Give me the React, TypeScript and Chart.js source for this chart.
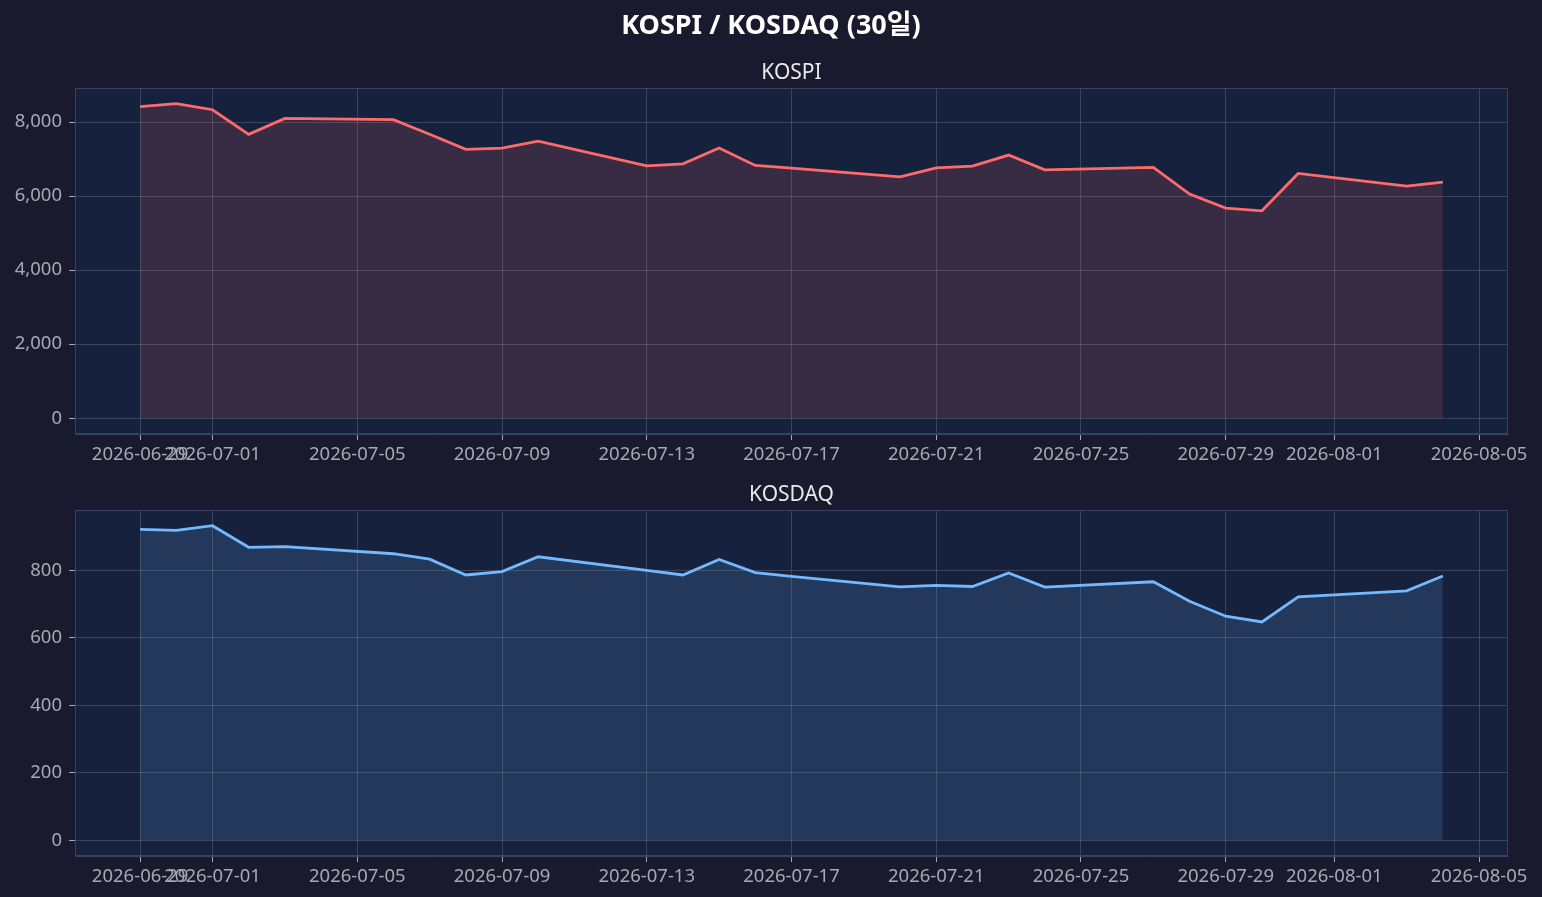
import { useEffect, useRef } from 'react';
import { Chart, registerables } from 'chart.js';

Chart.register(...registerables);

// trading days shown in the chart
const dates = [
  '2026-06-29', '2026-06-30', '2026-07-01', '2026-07-02', '2026-07-03',
  '2026-07-06', '2026-07-07', '2026-07-08', '2026-07-09', '2026-07-10',
  '2026-07-13', '2026-07-14', '2026-07-15', '2026-07-16', '2026-07-17',
  '2026-07-20', '2026-07-21', '2026-07-22', '2026-07-23', '2026-07-24',
  '2026-07-27', '2026-07-28', '2026-07-29', '2026-07-30', '2026-07-31',
  '2026-08-03', '2026-08-04',
];

const kospi = [
  8415, 8496, 8334, 7668, 8100,
  8064, 7670, 7262, 7298, 7487,
  6820, 6874, 7298, 6830, 6754,
  6523, 6766, 6812, 7109, 6712,
  6776, 6055, 5676, 5604, 6614,
  6271, 6379,
];

const kosdaq = [
  921, 918, 932, 868, 870,
  849, 833, 786, 796, 840,
  800, 786, 832, 793, 782,
  751, 755, 752, 792, 750,
  766, 708, 664, 647, 721,
  739, 783,
];

const dateTicks = [
  '2026-06-29', '2026-07-01', '2026-07-05', '2026-07-09', '2026-07-13',
  '2026-07-17', '2026-07-21', '2026-07-25', '2026-07-29', '2026-08-01', '2026-08-05',
];
const kospiTicks = [0, 2000, 4000, 6000, 8000];
const kosdaqTicks = [0, 200, 400, 600, 800];

const DAY = 86400000;
const t0 = Date.parse(dates[0]);
const toDay = (s: string) => (Date.parse(s) - t0) / DAY;
const fromDay = (d: number) => new Date(t0 + Math.round(d) * DAY).toISOString().slice(0, 10);

const FONT = "'Noto Sans', 'Noto Sans CJK KR', sans-serif";
Chart.defaults.font.family = FONT;

type PanelProps = {
  height: number;
  top: number;
  padTop: number;
  label: string;
  values: number[];
  color: string;
  fill: string;
  yTicks: number[];
  suptitle?: string;
};

function Panel({ height, top, padTop, label, values, color, fill, yTicks, suptitle }: PanelProps) {
  const canvasRef = useRef<HTMLCanvasElement>(null);
  const chartRef = useRef<Chart | null>(null);

  useEffect(() => {
    if (!canvasRef.current) return;
    if (chartRef.current) chartRef.current.destroy();

    const span = toDay(dates[dates.length - 1]);
    const vmax = Math.max(...values);

    // axes face, spines and the titles (panel title over the axes, suptitle over the figure)
    const frame = {
      id: 'frame',
      beforeDraw(chart: any) {
        const { ctx, chartArea: a } = chart;
        ctx.save();
        ctx.fillStyle = '#16213e';
        ctx.fillRect(a.left, a.top, a.right - a.left, a.bottom - a.top);
        ctx.restore();
      },
      afterDraw(chart: any) {
        const { ctx, chartArea: a } = chart;
        ctx.save();
        ctx.strokeStyle = '#3b3f62';
        ctx.lineWidth = 1;
        ctx.strokeRect(a.left + 0.5, a.top + 0.5, a.right - a.left - 1, a.bottom - a.top - 1);

        ctx.textAlign = 'center';
        ctx.textBaseline = 'alphabetic';
        ctx.fillStyle = '#e8e8e8';
        ctx.font = `21px ${FONT}`;
        ctx.fillText(label, (a.left + a.right) / 2, a.top - 8.7);

        if (suptitle) {
          ctx.fillStyle = '#ffffff';
          ctx.font = `bold 27px ${FONT}`;
          ctx.fillText(suptitle, chart.width / 2, 34.3);
        }
        ctx.restore();
      },
    };

    chartRef.current = new Chart(canvasRef.current, {
      type: 'line',
      data: {
        datasets: [
          {
            label,
            data: values.map((v, i) => ({ x: toDay(dates[i]), y: v })),
            borderColor: color,
            backgroundColor: fill,
            borderWidth: 2.8,
            fill: 'origin',
            pointRadius: 0,
            tension: 0,
          },
        ],
      },
      options: {
        animation: false,
        responsive: false,
        layout: { padding: { left: 0, right: 34, top: padTop, bottom: 0 } },
        plugins: {
          legend: { display: false },
          tooltip: { enabled: false },
        },
        scales: {
          x: {
            type: 'linear',
            min: -0.05 * span,
            max: span * 1.05,
            afterBuildTicks: (scale: any) => {
              scale.ticks = dateTicks.map((d) => ({ value: toDay(d) }));
            },
            afterFit: (scale: any) => {
              scale.height = 41;
            },
            ticks: {
              autoSkip: false,
              maxRotation: 0,
              color: '#a8a8b4',
              font: { size: 18.5 },
              padding: 4,
              callback: (v: any) => fromDay(Number(v)),
            },
            grid: {
              color: 'rgba(255,255,255,0.16)',
              tickColor: '#a8a8b4',
              tickLength: 6,
            },
            border: { color: '#3b3f62' },
          },
          y: {
            min: -0.05 * vmax,
            max: vmax * 1.05,
            afterBuildTicks: (scale: any) => {
              scale.ticks = yTicks.map((v) => ({ value: v }));
            },
            afterFit: (scale: any) => {
              scale.width = 75;
            },
            ticks: {
              color: '#a8a8b4',
              font: { size: 18.5 },
              padding: 7,
              callback: (v: any) => Number(v).toLocaleString('en-US'),
            },
            grid: {
              color: 'rgba(255,255,255,0.16)',
              tickColor: '#a8a8b4',
              tickLength: 6,
            },
            border: { color: '#3b3f62' },
          },
        },
      },
      plugins: [frame],
    });

    return () => {
      if (chartRef.current) {
        chartRef.current.destroy();
        chartRef.current = null;
      }
    };
  }, []);

  return (
    <canvas
      ref={canvasRef}
      width={1542}
      height={height}
      style={{ position: 'absolute', left: 0, top, width: 1542, height }}
    />
  );
}

export default function App() {
  return (
    <div
      style={{
        position: 'fixed',
        left: 0,
        top: 0,
        width: 1542,
        height: 897,
        background: '#1a1a2e',
        overflow: 'hidden',
      }}
    >
      <Panel
        top={0}
        height={475}
        padTop={88}
        label="KOSPI"
        suptitle="KOSPI / KOSDAQ (30일)"
        values={kospi}
        color="#ff6b6b"
        fill="rgba(255,107,107,0.15)"
        yTicks={kospiTicks}
      />
      <Panel
        top={475}
        height={422}
        padTop={35}
        label="KOSDAQ"
        values={kosdaq}
        color="#74b9ff"
        fill="rgba(116,185,255,0.15)"
        yTicks={kosdaqTicks}
      />
    </div>
  );
}
